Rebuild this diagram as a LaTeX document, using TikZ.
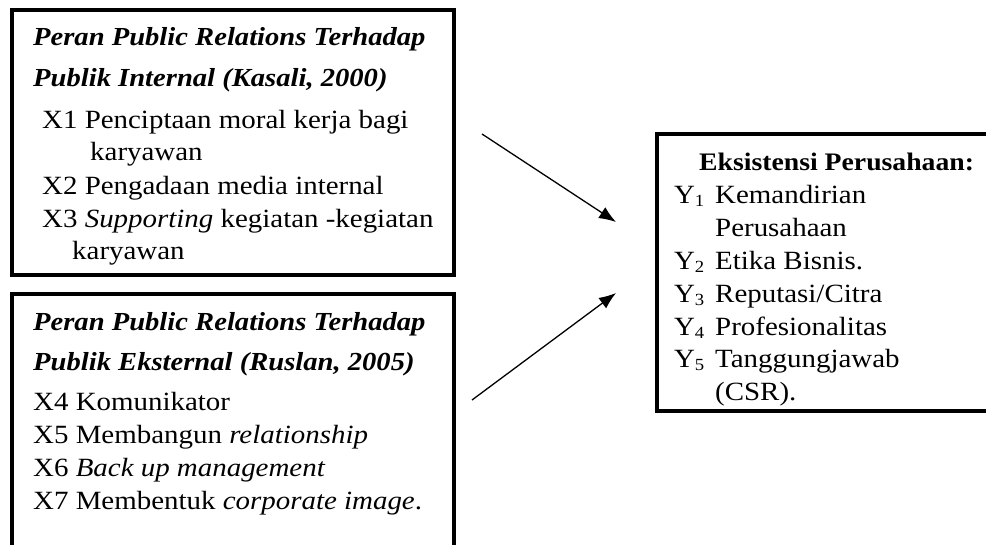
\documentclass[tikz,border=0pt]{standalone}
\usepackage{fontspec}
\setmainfont{Liberation Serif}[FakeStretch=1.1]
\usetikzlibrary{arrows.meta}
\tikzset{
  frame/.style={draw, line width=4pt, outer sep=0pt, inner sep=0pt, anchor=north west},
  txt/.style={anchor=base west, inner sep=0pt, font=\fontsize{26.3}{30}\selectfont},
  ylab/.style={anchor=base east, inner sep=0pt, font=\fontsize{26.3}{30}\selectfont},
  hd/.style={anchor=base west, inner sep=0pt, font=\fontsize{26}{30}\selectfont\bfseries\itshape},
  bhd/.style={anchor=base west, inner sep=0pt, font=\fontsize{25.2}{30}\selectfont\bfseries},
  arr/.style={line width=1.3pt, -{Latex[length=17pt,width=13pt]}}
}
\newcommand{\ysub}[1]{Y\textsubscript{\fontsize{17}{20}\selectfont #1}}
\begin{document}
\begin{tikzpicture}[x=1pt,y=-1pt]
\clip (0,0) rectangle (986,544);
\useasboundingbox (0,0) rectangle (986,544);
% box 1 text
\node[hd] (h1a) at (33,45) {Peran Public Relations Terhadap};
\node[hd] (h1b) at (33,86) {Publik Internal (Kasali, 2000)};
\node[txt] (x1) at (42,128) {X1 Penciptaan moral kerja bagi};
\node[txt] (x1b) at (90,160) {karyawan};
\node[txt] (x2) at (42,194) {X2 Pengadaan media internal};
\node[txt] (x3) at (42,227) {X3 \textit{Supporting} kegiatan -kegiatan};
\node[txt] (x3b) at (72,259) {karyawan};
% box 2 text
\node[hd] (h2a) at (33,330) {Peran Public Relations Terhadap};
\node[hd] (h2b) at (33,370) {Publik Eksternal (Ruslan, 2005)};
\node[txt] (x4) at (33,410) {X4 Komunikator};
\node[txt] (x5) at (33,443) {X5 Membangun \textit{relationship}};
\node[txt] (x6) at (33,476) {X6 \textit{Back up management}};
\node[txt] (x7) at (33,509) {X7 Membentuk \textit{corporate image}.};
% box 3 text
\node[bhd] (h3) at (699,170) {Eksistensi Perusahaan:};
\node[ylab] (y1) at (705,203) {\ysub{1}};
\node[txt] (y1t) at (715,203) {Kemandirian};
\node[txt] (y1b) at (715,236) {Perusahaan};
\node[ylab] (y2) at (705,269) {\ysub{2}};
\node[txt] (y2t) at (715,269) {Etika Bisnis.};
\node[ylab] (y3) at (705,302) {\ysub{3}};
\node[txt] (y3t) at (715,302) {Reputasi/Citra};
\node[ylab] (y4) at (705,335) {\ysub{4}};
\node[txt] (y4t) at (715,335) {Profesionalitas};
\node[ylab] (y5) at (705,367) {\ysub{5}};
\node[txt] (y5t) at (715,367) {Tanggungjawab};
\node[txt] (y5b) at (715,400) {(CSR).};
% frames
\node[frame, minimum width=442pt, minimum height=265pt] (b1) at (12,10) {};
\node[frame, minimum width=442pt, minimum height=280pt] (b2) at (12,294) {};
\node[frame, minimum width=360pt, minimum height=277pt] (b3) at (657,134) {};
% arrows
\coordinate (a1s) at (482,134);
\coordinate (a1e) at (616,222);
\coordinate (a2s) at (472,400);
\coordinate (a2e) at (616,293);
\draw[arr] (a1s) -- (a1e);
\draw[arr] (a2s) -- (a2e);
\end{tikzpicture}
\end{document}
